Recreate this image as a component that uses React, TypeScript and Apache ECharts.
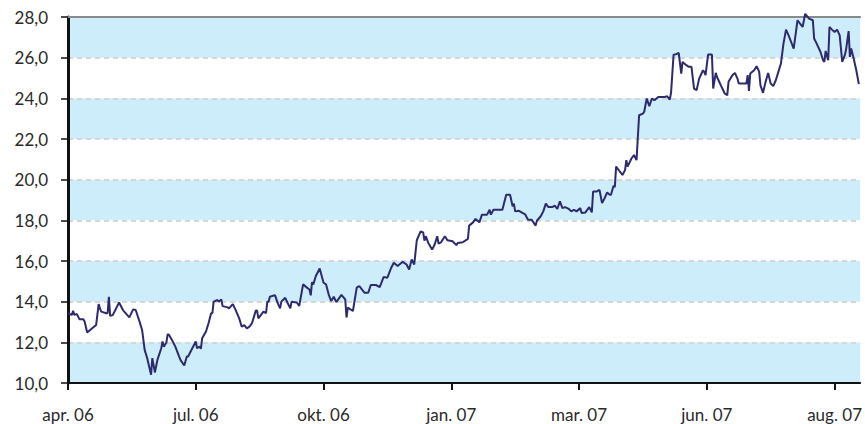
import React, { useEffect, useRef } from "react";
import * as echarts from "echarts";

// Session index (trading-day position along the axis) and closing price
const sessions = [
  0, 3, 4, 5, 7, 9, 12, 13, 15, 22, 24, 25, 26, 30, 31, 32, 33, 35, 40, 43, 44, 48, 51, 53, 56, 58, 60, 62, 65, 66,
  68, 70, 73, 74, 75, 77, 78, 79, 82, 84, 87, 88, 91, 93, 94, 96, 100, 101, 103, 104, 105, 108, 110, 112, 113, 114,
  117, 118, 120, 121, 125, 126, 129, 131, 134, 136, 138, 140, 142, 144, 147, 148, 149, 153, 155, 156, 157, 158, 162,
  164, 166, 167, 170, 172, 174, 175, 179, 181, 184, 187, 189, 190, 191, 192, 194, 197, 200, 202, 204, 206, 208, 210,
  214, 217, 218, 219, 223, 226, 228, 230, 232, 235, 237, 241, 244, 247, 250, 253, 255, 258, 262, 265, 267, 269, 271,
  273, 276, 278, 279, 280, 282, 285, 287, 289, 290, 292, 295, 297, 301, 304, 305, 309, 313, 314, 317, 319, 322, 324,
  328, 330, 331, 333, 337, 340, 343, 346, 348, 349, 350, 353, 356, 358, 360, 363, 366, 367, 370, 372, 374, 376, 379,
  381, 383, 385, 387, 389, 392, 394, 396, 398, 401, 402, 405, 408, 410, 411, 414, 416, 418, 420, 422, 424, 425, 427,
  428, 429, 432, 434, 436, 437, 438, 441, 443, 445, 447, 450, 451, 453, 455, 457, 459, 462, 464, 467, 469, 471, 472,
  474, 476, 478, 480, 481, 484, 486, 488, 490, 492, 494, 497, 498, 499, 501, 504, 505, 507, 508, 511, 514, 516, 517,
  520, 522, 524, 525, 528, 531, 532, 533, 534, 537, 539, 541, 542, 544, 546, 548, 550, 552, 554, 556, 558, 560, 562,
  564, 567, 568, 571, 574, 575, 577, 580, 583, 584, 586, 589, 591, 592, 593, 595, 596, 598, 600, 602, 604, 606, 608,
  609, 611, 612, 613, 615, 617, 619,
];

const prices = [
  13.43, 13.35, 13.55, 13.35, 13.39, 13.13, 13.13, 13.02, 12.48, 12.85, 13.88, 13.67, 13.51, 13.43, 13.43, 14.24,
  13.3, 13.34, 13.96, 13.59, 13.51, 13.23, 13.62, 13.59, 13.02, 12.61, 11.63, 11.22, 10.41, 11.22,
  10.52, 11.14, 11.71, 12.04, 11.79, 11.99, 12.4, 12.37, 12.04, 11.79, 11.3, 11.14, 10.86, 11.3, 11.3, 11.55, 12.04,
  11.71, 11.79, 11.68, 12.2, 12.53, 12.94, 13.43, 13.43, 14.0,
  14.08, 14.0, 14.11, 13.78, 13.72, 13.67, 13.88, 13.62, 13.18, 12.77, 12.85, 12.69, 12.77, 12.94, 13.56, 13.56,
  13.18, 13.51, 13.43, 14.0, 14.0, 14.24, 14.32,
  13.95, 13.67, 14.0, 14.19, 13.92, 13.67, 14.0, 13.96, 13.79, 14.85, 14.69, 14.6, 14.31, 14.96, 14.85, 15.26, 15.63,
  14.93, 14.85, 14.36, 14.03, 14.24, 13.98,
  14.33, 14.11, 13.22, 13.71, 13.54, 14.69, 14.77, 14.6, 14.44, 14.44, 14.82, 14.82, 14.72, 15.21, 15.18, 15.67,
  15.91, 15.75, 15.96, 15.83, 15.58, 16.07, 15.83,
  17.02, 17.46, 17.41, 17.0, 17.22, 16.89, 16.56, 16.81, 17.22, 16.86, 16.92, 17.22, 17.02, 16.97, 16.78, 16.89,
  16.92, 17.09, 17.74, 17.9, 18.07, 17.9, 18.28,
  18.28, 18.52, 18.28, 18.52, 18.52, 18.52, 19.26, 19.26, 18.69, 18.82, 18.44, 18.47, 18.36, 18.28, 18.03, 18.03,
  17.74, 17.98, 18.2, 18.44, 18.82, 18.65, 18.65,
  18.72, 18.56, 18.93, 18.6, 18.65, 18.56, 18.44, 18.52, 18.44, 18.6, 18.36, 18.39, 18.65, 18.39, 19.42, 19.42, 19.5,
  18.85, 19.09, 19.37, 19.26, 19.26, 19.7,
  19.63, 20.64, 20.39, 20.23, 20.47, 20.96, 20.64, 21.04, 21.21, 20.96, 23.17, 23.25, 23.34, 23.99, 23.61, 23.99,
  23.91, 24.07, 24.07, 24.07, 24.1, 23.94, 24.27,
  26.15, 26.17, 26.23, 25.22, 25.79, 25.63, 25.55, 25.55, 24.48, 24.4, 24.97, 25.38, 25.3, 25.14, 26.15, 26.15, 24.48,
  25.25, 25.05, 24.64, 24.24, 24.15, 24.81,
  25.14, 25.25, 24.97, 24.73, 24.73, 24.73, 25.14, 24.37, 25.22, 25.38, 25.58, 25.3, 24.64, 24.27, 24.81, 25.25,
  24.73, 24.6, 24.89, 25.3, 25.71, 26.69, 27.38,
  27.1, 26.61, 26.45, 27.84, 27.59, 27.51, 28.16, 27.92, 27.84, 26.94, 26.69, 26.28, 25.87, 25.79, 26.33, 25.87,
  27.51, 27.38, 27.26, 27.38, 27.1, 25.79, 26.12,
  26.4, 27.31, 26.04, 26.45, 25.95, 25.38, 24.7,
];

// Axis tick labels
const xTickLabels = ["apr. 06", "jul. 06", "okt. 06", "jan. 07", "mar. 07", "jun. 07", "aug. 07"];
const xTickStep = 100;
const xMax = 620;
const yMin = 10;
const yMax = 28;
const yStep = 2;

const FONT = "Lato, 'Open Sans', sans-serif";

export default function App() {
  const ref = useRef<HTMLDivElement>(null);

  useEffect(() => {
    if (!ref.current) return;
    const chart = echarts.init(ref.current, undefined, { renderer: "svg" });
    const data = sessions.map((s, i) => [s, prices[i]]);
    const tickValues = xTickLabels.map((_, i) => i * xTickStep);

    chart.setOption({
      animation: false,
      backgroundColor: "#ffffff",
      grid: { left: 68, right: 0, top: 17, bottom: 41, containLabel: false },
      xAxis: [
        {
          type: "value",
          min: 0,
          max: xMax,
          interval: xTickStep,
          position: "bottom",
          axisLine: { show: true, onZero: false, lineStyle: { color: "#111", width: 2 } },
          axisTick: {
            show: true,
            customValues: tickValues,
            length: 7,
            inside: false,
            lineStyle: { color: "#111", width: 2 },
          },
          axisLabel: {
            customValues: tickValues,
            formatter: (v: number) => xTickLabels[Math.round(v / xTickStep)] ?? "",
            margin: 23,
            color: "#2a2a2a",
            fontSize: 17,
            fontFamily: FONT,
          },
          splitLine: { show: false },
        },
        {
          type: "value",
          min: 0,
          max: xMax,
          position: "top",
          axisLine: { show: true, onZero: false, lineStyle: { color: "#8a8a8a", width: 2 } },
          axisTick: { show: false },
          axisLabel: { show: false },
          splitLine: { show: false },
        },
      ],
      yAxis: {
        type: "value",
        min: yMin,
        max: yMax,
        interval: yStep,
        axisLine: { show: true, onZero: false, lineStyle: { color: "#111", width: 3 } },
        axisTick: { show: true, length: 7, lineStyle: { color: "#111", width: 1.5 } },
        axisLabel: {
          formatter: (v: number) => v.toFixed(1).replace(".", ","),
          margin: 20,
          padding: [5, 0, 0, 0],
          color: "#2a2a2a",
          fontSize: 17,
          fontFamily: FONT,
        },
        splitLine: {
          show: true,
          lineStyle: { color: "#d6d6d6", width: 2, type: [5, 4] },
        },
        splitArea: {
          show: true,
          areaStyle: { color: ["#ccedf9", "#ffffff"] },
        },
      },
      series: [
        {
          type: "line",
          data,
          xAxisIndex: 0,
          showSymbol: false,
          symbol: "none",
          clip: false,
          lineStyle: { color: "#2d2a6e", width: 2 },
          z: 5,
        },
      ],
    });

    return () => chart.dispose();
  }, []);

  return (
    <div
      ref={ref}
      style={{ position: "fixed", left: 0, top: 0, width: 865, height: 424 }}
    />
  );
}
